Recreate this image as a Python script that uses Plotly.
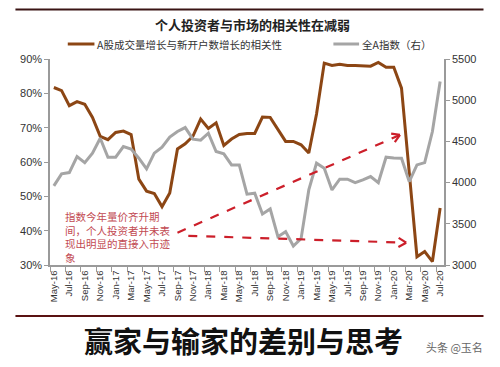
import math
import plotly.graph_objects as go

months = ["May-16","Jun-16","Jul-16","Aug-16","Sep-16","Oct-16","Nov-16","Dec-16",
          "Jan-17","Feb-17","Mar-17","Apr-17","May-17","Jun-17","Jul-17","Aug-17",
          "Sep-17","Oct-17","Nov-17","Dec-17","Jan-18","Feb-18","Mar-18","Apr-18",
          "May-18","Jun-18","Jul-18","Aug-18","Sep-18","Oct-18","Nov-18","Dec-18",
          "Jan-19","Feb-19","Mar-19","Apr-19","May-19","Jun-19","Jul-19","Aug-19",
          "Sep-19","Oct-19","Nov-19","Dec-19","Jan-20","Feb-20","Mar-20","Apr-20",
          "May-20","Jun-20","Jul-20"]

correlation = [81.7, 80.8, 76.4, 77.6, 76.8, 73.0, 67.5, 66.5, 68.6, 69.0,
               68.0, 55.0, 51.5, 50.8, 47.0, 51.0, 63.8, 65.3, 67.5, 72.5,
               69.8, 71.4, 64.8, 66.7, 68.0, 68.3, 68.3, 73.1, 73.0, 69.4,
               66.0, 66.0, 65.0, 62.6, 74.0, 88.8, 88.1, 88.5, 88.1, 88.1,
               88.1, 87.9, 89.0, 87.6, 87.6, 81.5, 57.0, 32.4, 33.9, 31.0, 46.6]

index_all_a = [3960, 4106, 4122, 4316, 4243, 4357, 4539, 4308, 4308, 4437,
               4406, 4296, 4166, 4357, 4430, 4552, 4620, 4668, 4527, 4515,
               4600, 4377, 4349, 4215, 4215, 3860, 3871, 3620, 3680, 3344,
               3405, 3231, 3320, 3911, 4236, 4175, 3911, 4041, 4041, 4000,
               4033, 4073, 4000, 4308, 4300, 4296, 4012, 4215, 4243, 4620, 5227]

title_text = "个人投资者与市场的相关性在减弱"
series_names = ["A股成交量增长与新开户数增长的相关性", "全A指数（右）"]
note_lines = ["指数今年量价齐升期", "间，个人投资者并未表", "现出明显的直接入市迹", "象"]
banner_text = "赢家与输家的差别与思考"
watermark_text = "头条 @玉名"

# arrows (x in month index, y in left-axis %)
arrow_up = (16.0, 39.4, 44.8, 67.9)
arrow_flat = (17.4, 38.5, 45.6, 36.5)

BROWN = "#8c4614"
GRAY = "#a5a5a5"
RED = "#cc1f2a"

x_idx = list(range(len(months)))
tick_idx = x_idx[::2]
tick_txt = months[::2]

fig = go.Figure()
fig.add_trace(go.Scatter(x=x_idx, y=correlation, mode="lines", name=series_names[0],
                         line=dict(color=BROWN, width=3), yaxis="y"))
fig.add_trace(go.Scatter(x=x_idx, y=index_all_a, mode="lines", name=series_names[1],
                         line=dict(color=GRAY, width=3), yaxis="y2"))

# page geometry: the page body has an 8px margin
OFF = 8
PL, PR, PT, PB = 45, 444, 59, 265   # plot area in page pixels
W, H = 500 - OFF, 367 - OFF
L = PL - OFF
T = PT - OFF
R = OFF + W - PR
B = OFF + H - PB
pw, ph = PR - PL, PB - PT
xr = (-0.5, 50.5)
yr = (30, 90)
sx = pw / (xr[1] - xr[0])
sy = ph / (yr[1] - yr[0])

def px_x(p):
    return (p - PL) / pw

def px_y(p):
    return (PB - p) / ph

shapes = []
for (x0, y0, x1, y1) in [arrow_up, arrow_flat]:
    shapes.append(dict(type="line", xref="x", yref="y", x0=x0, y0=y0, x1=x1, y1=y1,
                       line=dict(color=RED, width=2.2, dash="dash")))
    ang = math.atan2((y1 - y0) * sy, (x1 - x0) * sx)
    hl = 9
    for da in (2.6, -2.6):
        a = ang + da
        shapes.append(dict(type="line", xref="x", yref="y", x0=x1, y0=y1,
                           x1=x1 + hl * math.cos(a) / sx, y1=y1 + hl * math.sin(a) / sy,
                           line=dict(color=RED, width=2.2)))

# decorative rules
shapes.append(dict(type="line", xref="paper", yref="paper", x0=px_x(10), x1=px_x(484),
                   y0=px_y(9.5), y1=px_y(9.5), line=dict(color="#3a1414", width=2)))
shapes.append(dict(type="line", xref="paper", yref="paper", x0=px_x(10), x1=px_x(484),
                   y0=px_y(316), y1=px_y(316), line=dict(color="#5a1212", width=2)))
# legend samples
shapes.append(dict(type="line", xref="paper", yref="paper", x0=px_x(63), x1=px_x(90),
                   y0=px_y(44), y1=px_y(44), line=dict(color=BROWN, width=3)))
shapes.append(dict(type="line", xref="paper", yref="paper", x0=px_x(332), x1=px_x(358),
                   y0=px_y(44), y1=px_y(44), line=dict(color=GRAY, width=3)))

CJK = "Noto Sans CJK SC"
annotations = [
    dict(text="<b>" + title_text + "</b>", xref="paper", yref="paper", x=px_x(250), y=px_y(24),
         xanchor="center", yanchor="middle", showarrow=False,
         font=dict(family=CJK, size=13, color="#222222")),
    dict(text=series_names[0], xref="paper", yref="paper", x=px_x(91), y=px_y(44),
         xanchor="left", yanchor="middle", showarrow=False,
         font=dict(family=CJK, size=10.5, color="#333333")),
    dict(text=series_names[1], xref="paper", yref="paper", x=px_x(359), y=px_y(44),
         xanchor="left", yanchor="middle", showarrow=False,
         font=dict(family=CJK, size=10.5, color="#333333")),
    dict(text="<br>".join(note_lines), xref="paper", yref="paper", x=px_x(58), y=px_y(207),
         xanchor="left", yanchor="top", align="left", showarrow=False,
         font=dict(family=CJK, size=10.5, color="#c24a52")),
    dict(text="<b>" + banner_text + "</b>", xref="paper", yref="paper", x=px_x(241), y=px_y(340),
         xanchor="center", yanchor="middle", showarrow=False,
         font=dict(family=CJK, size=29, color="#111111")),
    dict(text=watermark_text, xref="paper", yref="paper", x=px_x(455), y=px_y(347),
         xanchor="center", yanchor="middle", showarrow=False,
         font=dict(family=CJK, size=11, color="#666666")),
]

axis_font = dict(family="Liberation Sans", size=11, color="#333333")

fig.update_layout(
    width=W, height=H,
    margin=dict(l=L, r=R, t=T, b=B),
    paper_bgcolor="white", plot_bgcolor="white",
    showlegend=False,
    shapes=shapes,
    annotations=annotations,
    xaxis=dict(range=list(xr), tickmode="array", tickvals=tick_idx, ticktext=tick_txt,
               tickangle=-90, ticks="", showgrid=False, zeroline=False,
               showline=True, linecolor="#9a9a9a", linewidth=1.5,
               tickfont=dict(family="Liberation Sans", size=9.5, color="#333333"),
               minor=dict(tickmode="linear", tick0=-0.5, dtick=2, ticks="outside",
                          ticklen=5, tickcolor="#9a9a9a", tickwidth=1, showgrid=False)),
    yaxis=dict(range=list(yr), dtick=10, ticksuffix="%", showgrid=False, zeroline=False,
               showline=True, linecolor="#9a9a9a", linewidth=1.5, ticks="outside",
               ticklen=4, tickcolor="#9a9a9a", tickfont=axis_font),
    yaxis2=dict(range=[3000, 5500], dtick=500, overlaying="y", side="right",
                showgrid=False, zeroline=False, showline=True, linecolor="#9a9a9a",
                linewidth=1.5, ticks="outside", ticklen=4, tickcolor="#9a9a9a",
                tickfont=axis_font),
)

fig.write_html("out.html")
